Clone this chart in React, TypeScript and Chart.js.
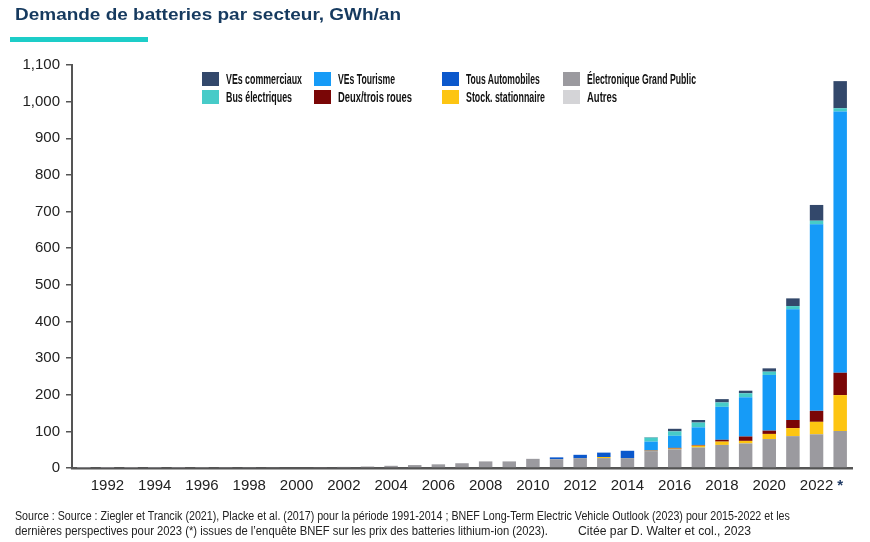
import React, { useEffect, useRef } from 'react';
import { Chart, registerables } from 'chart.js';

Chart.register(...registerables);

const title = 'Demande de batteries par secteur, GWh/an';

const years = [
  '1991', '1992', '1993', '1994', '1995', '1996', '1997', '1998', '1999', '2000',
  '2001', '2002', '2003', '2004', '2005', '2006', '2007', '2008', '2009', '2010',
  '2011', '2012', '2013', '2014', '2015', '2016', '2017', '2018', '2019', '2020',
  '2021', '2022', '2023',
];

const xTickLabels = [
  '', '1992', '', '1994', '', '1996', '', '1998', '', '2000',
  '', '2002', '', '2004', '', '2006', '', '2008', '', '2010',
  '', '2012', '', '2014', '', '2016', '', '2018', '', '2020',
  '', '2022', '*',
];

// Series, GWh/an (stack order bottom -> top)
const electronics = [
  0.2, 0.3, 0.4, 0.5, 0.6, 0.8, 1.0, 1.2, 1.5, 2,
  2.5, 3, 4, 6, 8, 10, 13, 18, 18, 25,
  24, 27, 27, 27, 46, 51, 56, 63, 67, 79,
  87, 92, 101,
];
const autres = [
  0, 0, 0, 0, 0, 0, 0, 0, 0, 0,
  0, 0, 0, 0, 0, 0, 0, 0, 0, 0,
  0, 0, 0, 0, 0, 0, 0, 0, 0, 0,
  0, 0, 0,
];
const stationary = [
  0, 0, 0, 0, 0, 0, 0, 0, 0, 0,
  0, 0, 0, 0, 0, 0, 0, 0, 0, 0,
  0, 0, 3, 0, 1, 2, 5, 9, 7, 14,
  22, 34, 98,
];
const twoThreeWheel = [
  0, 0, 0, 0, 0, 0, 0, 0, 0, 0,
  0, 0, 0, 0, 0, 0, 0, 0, 0, 0,
  0, 0, 0, 0, 1, 2, 2, 5, 12, 9,
  22, 30, 61,
];
const allAuto = [
  0, 0, 0, 0, 0, 0, 0, 0, 0, 0,
  0, 0, 0, 0, 0, 0, 0, 0, 0, 0,
  5, 9, 12, 20, 0, 0, 0, 0, 0, 0,
  0, 0, 0,
];
const evTourism = [
  0, 0, 0, 0, 0, 0, 0, 0, 0, 0,
  0, 0, 0, 0, 0, 0, 0, 0, 0, 0,
  0, 0, 0, 0, 24, 33, 48, 90, 107, 152,
  302, 509, 713,
];
const eBus = [
  0, 0, 0, 0, 0, 0, 0, 0, 0, 0,
  0, 0, 0, 0, 0, 0, 0, 0, 0, 0,
  0, 0, 0, 0, 11, 12, 13, 12, 11, 9,
  9, 10, 9,
];
const commercial = [
  0, 0, 0, 0, 0, 0, 0, 0, 0, 0,
  0, 0, 0, 0, 0, 0, 0, 0, 0, 0,
  0, 0, 0, 0, 1, 7, 7, 9, 7, 9,
  21, 43, 74,
];

const seriesNames = {
  commercial: 'VEs commerciaux',
  evTourism: 'VEs Tourisme',
  allAuto: 'Tous Automobiles',
  electronics: 'Électronique Grand Public',
  eBus: 'Bus électriques',
  twoThree: 'Deux/trois roues',
  stationary: 'Stock. stationnaire',
  autres: 'Autres',
};

const colors = {
  commercial: '#33486b',
  evTourism: '#169bf7',
  allAuto: '#0b58cc',
  electronics: '#9b9a9f',
  eBus: '#47cbc8',
  twoThree: '#7a0606',
  stationary: '#fdc512',
  autres: '#d4d4d7',
};

const yMax = 1100;
const yStep = 100;

const stackOrder = [
  { key: 'electronics', data: electronics },
  { key: 'autres', data: autres },
  { key: 'stationary', data: stationary },
  { key: 'twoThree', data: twoThreeWheel },
  { key: 'allAuto', data: allAuto },
  { key: 'evTourism', data: evTourism },
  { key: 'eBus', data: eBus },
  { key: 'commercial', data: commercial },
];

const legendOrder = [
  'commercial', 'evTourism', 'allAuto', 'electronics',
  'eBus', 'twoThree', 'stationary', 'autres',
];
const legendTextWidths = {
  commercial: 76, evTourism: 57, allAuto: 74, electronics: 109,
  eBus: 66, twoThree: 74, stationary: 79, autres: 30,
};

const footLine1 = 'Source : Source : Ziegler et Trancik (2021), Placke et al. (2017) pour la période 1991-2014 ; BNEF Long-Term Electric Vehicle Outlook (2023) pour 2015-2022 et les';
const footLine2 = 'dernières perspectives pour 2023 (*) issues de l\u2019enquête BNEF sur les prix des batteries lithium-ion (2023).';
const footCite = 'Citée par D. Walter et col., 2023';

let measureCtx: CanvasRenderingContext2D | null = null;
function measure(text: string, font: string): number {
  if (!measureCtx) measureCtx = document.createElement('canvas').getContext('2d');
  if (!measureCtx) return 1;
  measureCtx.font = font;
  return measureCtx.measureText(text).width || 1;
}

function FitText(props: { text: string; width: number; font: string; left: number; top: number; color: string; lineHeight: number }) {
  const { text, width, font, left, top, color, lineHeight } = props;
  const s = width / measure(text, font);
  return (
    <span
      style={{
        position: 'absolute',
        left,
        top,
        whiteSpace: 'nowrap',
        font,
        lineHeight: lineHeight + 'px',
        color,
        transform: `scaleX(${s})`,
        transformOrigin: 'left center',
      }}
    >
      {text}
    </span>
  );
}

export default function App() {
  const canvasRef = useRef<HTMLCanvasElement | null>(null);

  useEffect(() => {
    const canvas = canvasRef.current;
    if (!canvas) return;
    const chart = new Chart(canvas, {
      type: 'bar',
      data: {
        labels: years,
        datasets: stackOrder.map((s) => ({
          label: (seriesNames as any)[s.key],
          data: s.data,
          backgroundColor: (colors as any)[s.key],
          borderWidth: 0,
          barPercentage: 0.57,
          categoryPercentage: 1,
          stack: 'all',
        })),
      },
      options: {
        animation: false,
        responsive: false,
        devicePixelRatio: 1,
        layout: { padding: { left: 6, top: 65, right: 18, bottom: 44 } },
        plugins: {
          legend: { display: false },
          tooltip: { enabled: false },
          title: { display: false },
        },
        scales: {
          x: {
            stacked: true,
            grid: { display: false, drawTicks: false },
            border: { display: true, color: '#555555', width: 2.5 },
            ticks: {
              autoSkip: false,
              maxRotation: 0,
              minRotation: 0,
              padding: 9,
              color: (ctx: any) => (ctx.index === years.length - 1 ? '#1f3a64' : '#222222'),
              font: (ctx: any) => ({
                family: '"Liberation Sans", Arial, sans-serif',
                size: 15,
                weight: ctx.index === years.length - 1 ? 'bold' : 'normal',
              }),
              callback: (_v: any, i: number) => xTickLabels[i],
            },
            afterFit: (s: any) => {
              s.height = 30;
            },
          },
          y: {
            stacked: true,
            min: 0,
            max: yMax,
            grid: {
              display: true,
              drawOnChartArea: false,
              drawTicks: true,
              tickLength: 6,
              color: '#555555',
              lineWidth: 1.5,
            },
            border: { display: true, color: '#555555', width: 2 },
            ticks: {
              stepSize: yStep,
              padding: 6,
              color: '#222222',
              font: { family: '"Liberation Sans", Arial, sans-serif', size: 15 },
              callback: (v: any) => Number(v).toLocaleString('en-US'),
            },
            afterFit: (s: any) => {
              s.width = 66;
            },
          },
        },
      },
    });
    return () => chart.destroy();
  }, []);

  const legendFont = 'bold 14px "Liberation Sans", Arial, sans-serif';
  const footFont = '12px "Liberation Sans", Arial, sans-serif';
  const colX = [202, 314, 442, 563];
  const rowY = [72, 90];

  return (
    <div
      style={{
        position: 'absolute',
        left: 0,
        top: 0,
        width: 870,
        height: 542,
        background: '#ffffff',
        overflow: 'hidden',
        fontFamily: '"Liberation Sans", Arial, sans-serif',
      }}
    >
      <canvas
        ref={canvasRef}
        width={870}
        height={542}
        style={{ position: 'absolute', left: 0, top: 0, width: 870, height: 542 }}
      />
      <FitText
        text={title}
        width={386}
        font='bold 17px "Liberation Sans", Arial, sans-serif'
        left={15}
        top={5}
        color="#163a5f"
        lineHeight={20}
      />
      <div style={{ position: 'absolute', left: 10, top: 37, width: 138, height: 5, background: '#1dcdc8' }} />
      {legendOrder.map((k, i) => {
        const x = colX[i % 4];
        const y = rowY[Math.floor(i / 4)];
        return (
          <React.Fragment key={k}>
            <div
              style={{
                position: 'absolute',
                left: x,
                top: y,
                width: 17,
                height: 14,
                background: (colors as any)[k],
              }}
            />
            <FitText
              text={(seriesNames as any)[k]}
              width={(legendTextWidths as any)[k]}
              font={legendFont}
              left={x + 24}
              top={y - 2}
              color="#111111"
              lineHeight={18}
            />
          </React.Fragment>
        );
      })}
      <FitText text={footLine1} width={775} font={footFont} left={15} top={509} color="#222222" lineHeight={14} />
      <FitText text={footLine2} width={533} font={footFont} left={15} top={524} color="#222222" lineHeight={14} />
      <FitText text={footCite} width={173} font={footFont} left={578} top={524} color="#222222" lineHeight={14} />
    </div>
  );
}
